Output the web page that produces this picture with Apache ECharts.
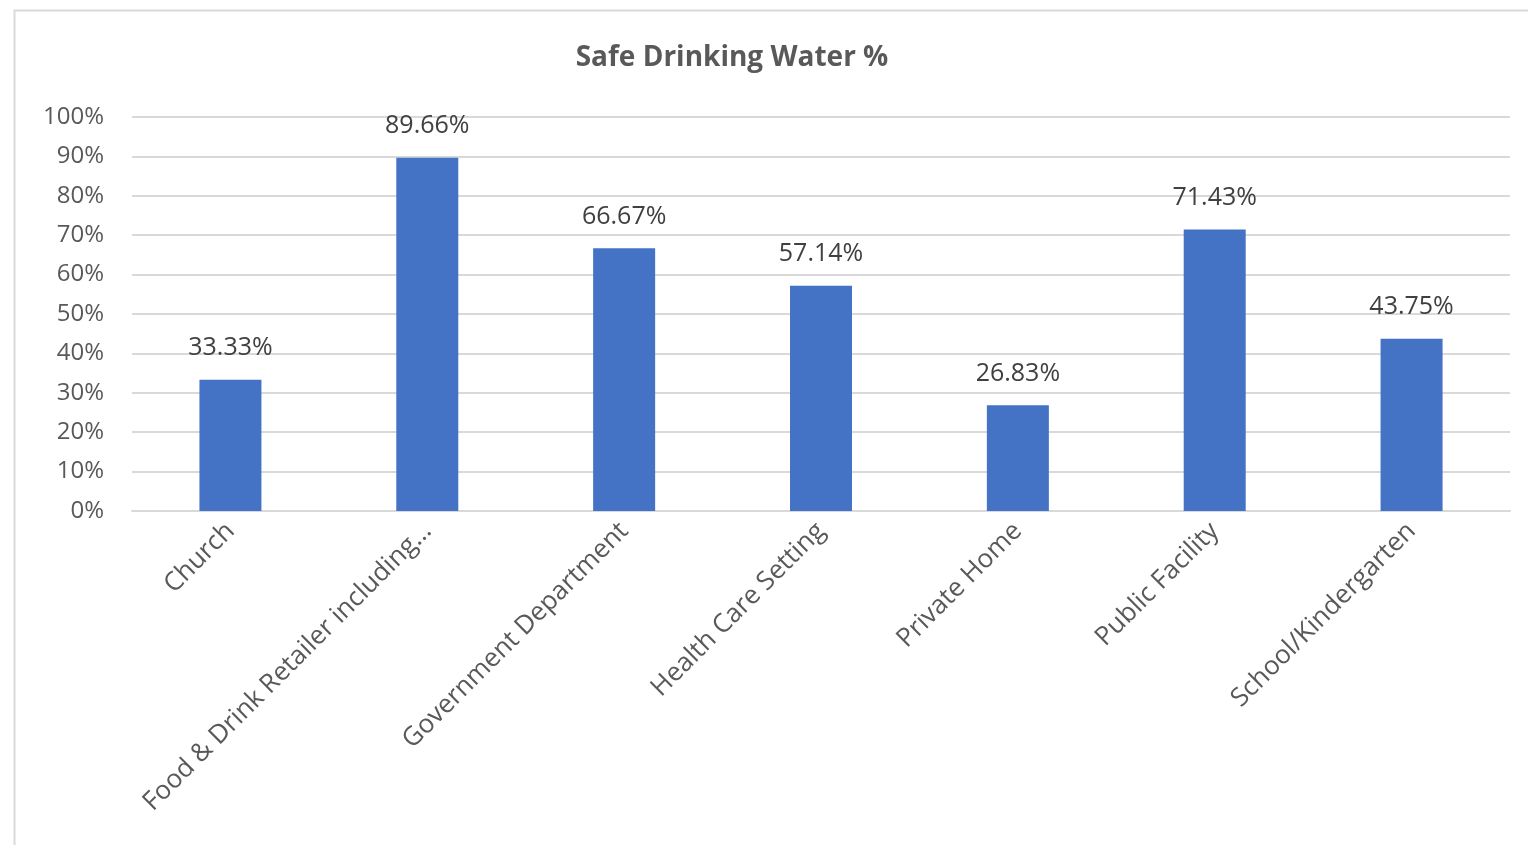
<!DOCTYPE html>
<html><head><meta charset="utf-8">
<script src="https://cdn.jsdelivr.net/npm/echarts@6/dist/echarts.min.js"></script>
<style>html,body{margin:0;padding:0;background:#fff}#c{width:1528px;height:845px}</style>
</head><body><div id="c"></div>
<script>
const title = 'Safe Drinking Water %';
const categories = ['Church','Food & Drink Retailer including…','Government Department','Health Care Setting','Private Home','Public Facility','School/Kindergarten'];
const values = [33.33, 89.66, 66.67, 57.14, 26.83, 71.43, 43.75];
const yTicks = [0,10,20,30,40,50,60,70,80,90,100];

const chart = echarts.init(document.getElementById('c'));
const FONT = '"Open Sans", "Liberation Sans", sans-serif';
chart.setOption({
  animation:false,
  backgroundColor:'#fff',
  graphic:[{type:'rect',left:12,top:8,shape:{width:1540,height:860},style:{fill:'none',stroke:'#d9d9d9',lineWidth:2}}],
  title:{text:title,left:727,top:39,textAlign:'center',textStyle:{fontFamily:FONT,fontSize:28,fontWeight:'bold',color:'#595959'}},
  grid:{left:132,right:18,top:117,bottom:334,containLabel:false},
  xAxis:{type:'category',data:categories,
    axisLine:{show:true,lineStyle:{color:'#d9d9d9',width:2}},axisTick:{show:false},
    axisLabel:{rotate:45,interval:0,margin:16,color:'#595959',fontFamily:FONT,fontSize:26}},
  yAxis:{type:'value',min:0,max:100,interval:10,
    axisLine:{show:false},axisTick:{show:false},
    splitLine:{lineStyle:{color:'#d9d9d9',width:2}},
    axisLabel:{formatter:v=>yTicks.includes(v)?v+'%':'',margin:28,color:'#595959',fontFamily:FONT,fontSize:24}},
  series:[{type:'bar',data:values,barWidth:62,itemStyle:{color:'#4472c4'},
    label:{show:true,position:'top',distance:19,formatter:p=>p.value.toFixed(2)+'%',color:'#404040',fontFamily:FONT,fontSize:25}}]
});
</script></body></html>
